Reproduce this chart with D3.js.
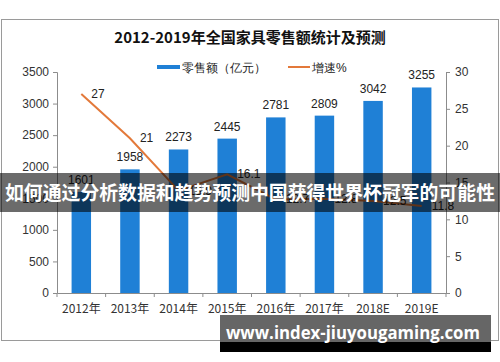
<!DOCTYPE html>
<html>
<head>
<meta charset="utf-8">
<script src="https://cdn.jsdelivr.net/npm/d3@7"></script>
<style>
  body { margin: 0; background: #fff; }
  svg text { font-family: "Liberation Sans", Arial, sans-serif; }
</style>
</head>
<body>
<div id="chart"></div>
<script>
// data
const years = ["2012年", "2013年", "2014年", "2015年", "2016年", "2017年", "2018E", "2019E"];
const sales = [1601, 1958, 2273, 2445, 2781, 2809, 3042, 3255];
const growth = [27, 21, 13.9, 16.1, 12.7, 12.8, 12.5, 11.8];
const salesTicks = [0, 500, 1000, 1500, 2000, 2500, 3000, 3500];
const growthTicks = [0, 5, 10, 15, 20, 25, 30];

const title = "2012-2019年全国家具零售额统计及预测";
const legendNames = ["零售额（亿元）", "增速%"];
const bannerText = "如何通过分析数据和趋势预测中国获得世界杯冠军的可能性";
const siteText = "www.index-jiuyougaming.com";

const W = 500, H = 362;
const plot = {left: 57, right: 446, top: 72, bottom: 293};
const blue = "#1f80d6", orange = "#e3793a", axisGrey = "#8c8c8c";

const svg = d3.select("#chart")
    .append("svg")
    .attr("width", W)
    .attr("height", H);

// outer frame
svg.append("rect")
    .attr("x", 1.5).attr("y", 19.5)
    .attr("width", 497).attr("height", 321)
    .attr("fill", "#fff")
    .attr("stroke", "#9a9a9a");

svg.append("text")
    .attr("x", 250).attr("y", 43)
    .attr("text-anchor", "middle")
    .style("font-family", "'Noto Sans CJK SC', sans-serif")
    .style("font-weight", "bold")
    .style("font-size", "15px")
    .attr("fill", "#111")
    .text(title);

// legend
const legend = svg.append("g").style("font-family", "'Noto Sans CJK SC', sans-serif").style("font-size", "12px");
legend.append("line").attr("x1", 157).attr("x2", 180).attr("y1", 67).attr("y2", 67)
    .attr("stroke", blue).attr("stroke-width", 4);
legend.append("text").attr("x", 182).attr("y", 71.5).attr("fill", "#222").text(legendNames[0]);
legend.append("line").attr("x1", 288).attr("x2", 310).attr("y1", 67).attr("y2", 67)
    .attr("stroke", orange).attr("stroke-width", 2);
legend.append("text").attr("x", 312).attr("y", 71.5).attr("fill", "#222").text(legendNames[1]);

// scales
const x = d3.scaleBand()
    .domain(years)
    .range([plot.left, plot.right])
    .paddingInner(0.6)
    .paddingOuter(0.3);

const yL = d3.scaleLinear().domain([0, 3500]).range([plot.bottom, plot.top]);
const yR = d3.scaleLinear().domain([0, 30]).range([plot.bottom, plot.top]);

// axes
const axisL = svg.append("g")
    .attr("transform", `translate(${plot.left},0)`)
    .call(d3.axisLeft(yL).tickValues(salesTicks).tickFormat(d3.format("d")).tickSize(4).tickPadding(4));

const axisR = svg.append("g")
    .attr("transform", `translate(${plot.right},0)`)
    .call(d3.axisRight(yR).tickValues(growthTicks).tickFormat(d3.format("d")).tickSize(4).tickPadding(5));

const axisB = svg.append("g")
    .attr("transform", `translate(0,${plot.bottom})`)
    .call(d3.axisBottom(x).tickSize(0).tickPadding(11));

// tick marks between categories
axisB.selectAll(".sep")
    .data(d3.range(years.length + 1))
    .join("line")
    .attr("class", "sep")
    .attr("x1", i => plot.left + i * (plot.right - plot.left) / years.length)
    .attr("x2", i => plot.left + i * (plot.right - plot.left) / years.length)
    .attr("y1", 0).attr("y2", 4)
    .attr("stroke", axisGrey);

[axisL, axisR, axisB].forEach(a => {
    a.select(".domain").attr("stroke", axisGrey);
    a.selectAll(".tick line").attr("stroke", axisGrey);
    a.selectAll("text").attr("fill", "#333").style("font-size", "12px");
});
axisB.selectAll(".tick text").style("font-family", "'Noto Sans CJK SC', sans-serif");

// bars
svg.selectAll(".bar")
    .data(sales)
    .join("rect")
    .attr("class", "bar")
    .attr("x", (d, i) => x(years[i]))
    .attr("width", x.bandwidth())
    .attr("y", d => yL(d))
    .attr("height", d => plot.bottom - yL(d))
    .attr("fill", blue);

svg.selectAll(".barLabel")
    .data(sales)
    .join("text")
    .attr("class", "barLabel")
    .attr("x", (d, i) => x(years[i]) + x.bandwidth() / 2)
    .attr("y", d => yL(d) - 8)
    .attr("text-anchor", "middle")
    .style("font-size", "12px")
    .attr("fill", "#222")
    .text(d => d);

// growth line
const cx = i => x(years[i]) + x.bandwidth() / 2;
const line = d3.line()
    .x((d, i) => cx(i))
    .y(d => yR(d));

svg.append("path")
    .datum(growth)
    .attr("d", line)
    .attr("fill", "none")
    .attr("stroke", orange)
    .attr("stroke-width", 2);

svg.selectAll(".lineLabel")
    .data(growth)
    .join("text")
    .attr("class", "lineLabel")
    .attr("x", (d, i) => cx(i) + 10)
    .attr("y", d => yR(d) + 4)
    .style("font-size", "12px")
    .attr("fill", "#222")
    .text(d => d);

// overlay banner across the middle
svg.append("rect")
    .attr("x", 0).attr("y", 173)
    .attr("width", W).attr("height", 39)
    .attr("fill", "#000")
    .attr("opacity", 0.58);

svg.append("text")
    .attr("x", 250).attr("y", 200)
    .attr("text-anchor", "middle")
    .attr("textLength", 490)
    .attr("lengthAdjust", "spacingAndGlyphs")
    .style("font-family", "'Noto Sans CJK SC', sans-serif")
    .style("font-weight", "bold")
    .style("font-size", "19.5px")
    .attr("fill", "#fff")
    .text(bannerText);

// site tag at the bottom
svg.append("rect")
    .attr("x", 220).attr("y", 315)
    .attr("width", 271).attr("height", 27)
    .attr("fill", "#666");
svg.append("rect")
    .attr("x", 220).attr("y", 342)
    .attr("width", 271).attr("height", 10)
    .attr("fill", "#000");
svg.append("text")
    .attr("x", 226).attr("y", 339)
    .attr("textLength", 254)
    .attr("lengthAdjust", "spacingAndGlyphs")
    .style("font-family", "'Open Sans', sans-serif")
    .style("font-weight", "bold")
    .style("font-size", "17px")
    .attr("fill", "#fff")
    .text(siteText);
</script>
</body>
</html>
